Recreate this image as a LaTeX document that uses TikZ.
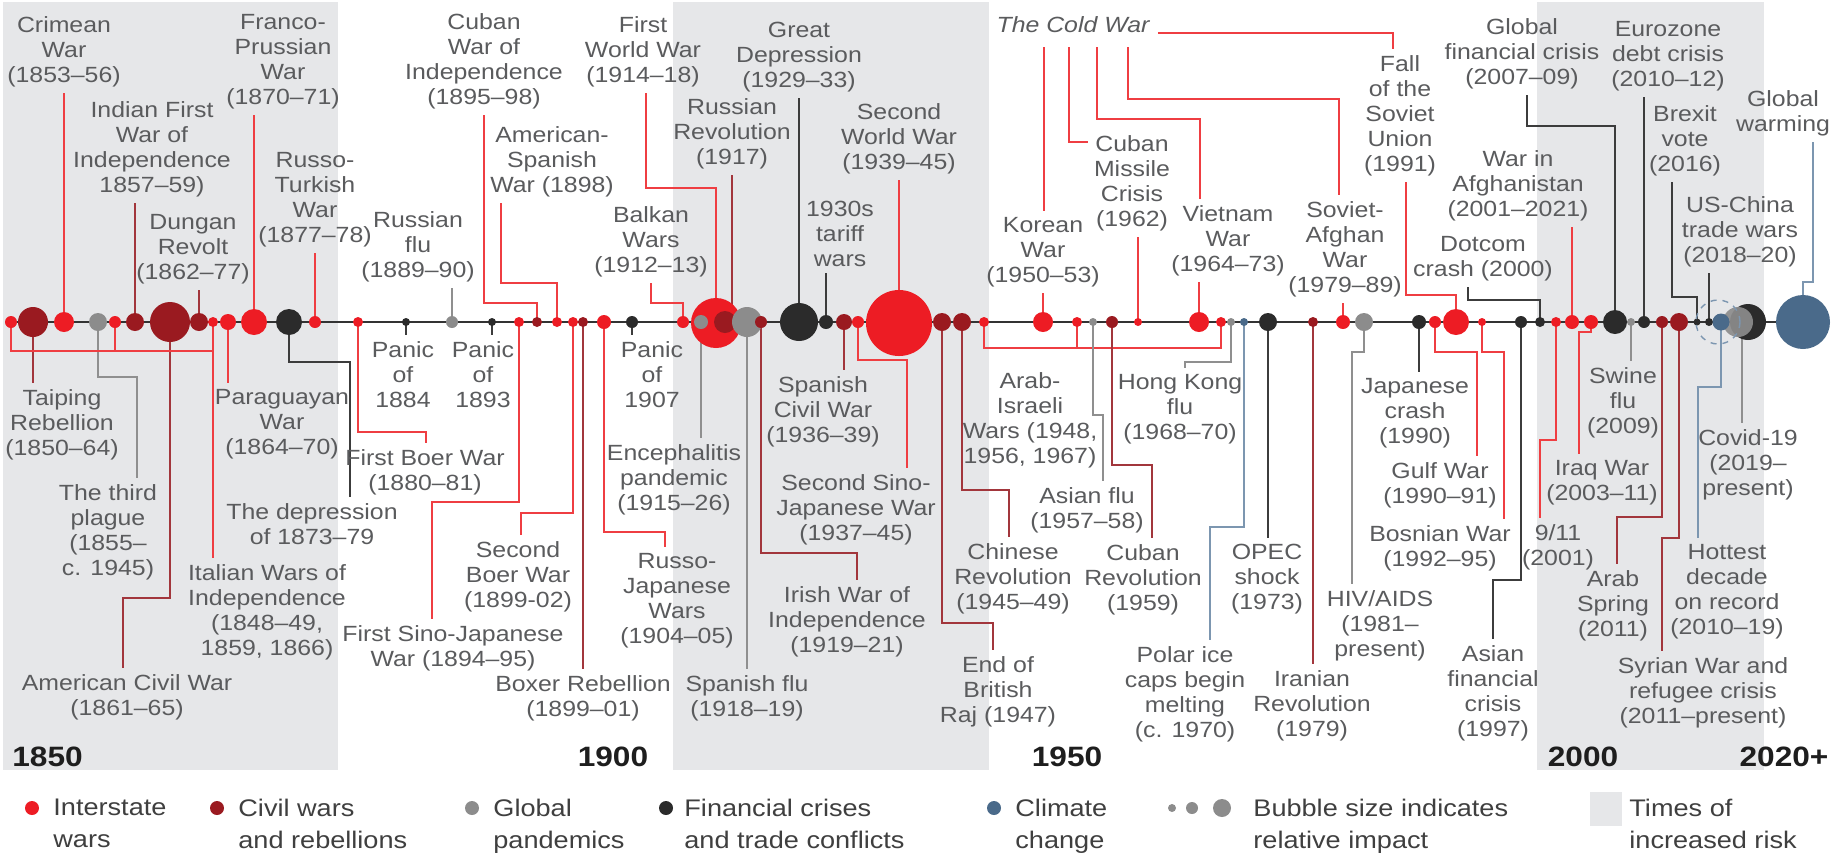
\documentclass[tikz,border=0pt]{standalone}
\usepackage{fontspec}
\setmainfont{Liberation Sans}[FakeStretch=1.13]
\usetikzlibrary{calc}
\pgfdeclarelayer{back}
\pgfdeclarelayer{mid}
\pgfsetlayers{back,mid,main}
\definecolor{cI}{HTML}{ED1C24}
\definecolor{cC}{HTML}{9A1A20}
\definecolor{cP}{HTML}{8C8C8C}
\definecolor{cF}{HTML}{2B2B2B}
\definecolor{cK}{HTML}{4A6A8A}
\definecolor{lI}{HTML}{EF3E42}
\definecolor{lC}{HTML}{A2363C}
\definecolor{lP}{HTML}{8F8F8F}
\definecolor{lF}{HTML}{3C3C3C}
\definecolor{lK}{HTML}{7C96B0}
\definecolor{bgc}{HTML}{E6E7E9}
\definecolor{txt}{HTML}{5A5B5D}
\definecolor{yrc}{HTML}{1E1E1E}
\definecolor{legc}{HTML}{3F3F3F}
\definecolor{axc}{HTML}{333333}
\begin{document}
\begin{tikzpicture}[x=0.5pt,y=-0.5pt,
  lab/.style={font=\fontsize{11}{12.5}\selectfont, text=txt, align=center, inner sep=3pt},
  yr/.style={font=\fontsize{14}{16}\selectfont\bfseries, text=yrc, inner sep=0pt},
  leg/.style={font=\fontsize{12}{16}\selectfont, text=legc, align=left, inner sep=0pt, anchor=north west},
  bub/.style={circle, inner sep=0pt, draw=none},
  wI/.style={draw=lI, line width=1pt},
  wC/.style={draw=lC, line width=1pt},
  wP/.style={draw=lP, line width=1pt},
  wF/.style={draw=lF, line width=1pt},
  wK/.style={draw=lK, line width=1pt}]
\useasboundingbox (0,0) rectangle (1836,859);
\begin{pgfonlayer}{back}
\fill[bgc] (3,2) rectangle (338,770);
\fill[bgc] (673,2) rectangle (989,770);
\fill[bgc] (1537,2) rectangle (1764,770);
\coordinate (axL) at (5,322);
\coordinate (axR) at (1790,322);
\draw[line width=1.3pt, axc] (axL) -- (axR);
\end{pgfonlayer}

% ---------- dots ----------
\node[bub,fill=cI,minimum size=6pt] (dit1) at (11,322) {};
\node[bub,fill=cC,minimum size=15pt] (dtaiping) at (33,322) {};
\node[bub,fill=cI,minimum size=10pt] (dcrimean) at (64,322) {};
\node[bub,fill=cP,minimum size=9pt] (dplague) at (98,322) {};
\node[bub,fill=cI,minimum size=6pt] (dit2) at (115,322) {};
\node[bub,fill=cC,minimum size=9pt] (dindian) at (135,322) {};
\node[bub,fill=cC,minimum size=20pt] (damcivil) at (170,322) {};
\node[bub,fill=cC,minimum size=9pt] (ddungan) at (199,322) {};
\node[bub,fill=cI,minimum size=5pt] (dit3) at (213,322) {};
\node[bub,fill=cI,minimum size=8pt] (dparaguay) at (228,322) {};
\node[bub,fill=cI,minimum size=13pt] (dfranco) at (254,322) {};
\node[bub,fill=cF,minimum size=13pt] (ddep73) at (289,322) {};
\node[bub,fill=cI,minimum size=6pt] (drusturk) at (315,322) {};
\node[bub,fill=cI,minimum size=5pt] (dboer1) at (358,322) {};
\node[bub,fill=cF,minimum size=4pt] (dpanic84) at (406,322) {};
\node[bub,fill=cP,minimum size=6pt] (drusflu) at (452,322) {};
\node[bub,fill=cF,minimum size=4pt] (dpanic93) at (492,322) {};
\node[bub,fill=cI,minimum size=5pt] (dsino1) at (519,322) {};
\node[bub,fill=cC,minimum size=5pt] (dcuba95) at (537,322) {};
\node[bub,fill=cI,minimum size=5pt] (damspan) at (557,322) {};
\node[bub,fill=cI,minimum size=5pt] (dboer2) at (573,322) {};
\node[bub,fill=cC,minimum size=5pt] (dboxer) at (583,322) {};
\node[bub,fill=cI,minimum size=7pt] (drusjap) at (604,322) {};
\node[bub,fill=cF,minimum size=6pt] (dpanic07) at (632,322) {};
\node[bub,fill=cI,minimum size=6pt] (dbalkan) at (683,322) {};
\node[bub,fill=cI,minimum size=25pt] (dwwi) at (716,323) {};
\node[bub,fill=cP,minimum size=7pt] (denceph) at (701,322) {};
\node[bub,fill=cC,minimum size=11pt] (drusrev) at (725,322) {};
\node[bub,fill=cP,minimum size=15pt] (dspflu) at (747,322) {};
\node[bub,fill=cC,minimum size=6pt] (dirish) at (761,322) {};
\node[bub,fill=cF,minimum size=19pt] (dgreatdep) at (799,322) {};
\node[bub,fill=cF,minimum size=7pt] (dtariff) at (826,322) {};
\node[bub,fill=cC,minimum size=8pt] (dspcivil) at (844,322) {};
\node[bub,fill=cI,minimum size=6pt] (dsino2) at (858,322) {};
\node[bub,fill=cI,minimum size=33pt] (dww2) at (899,323) {};
\node[bub,fill=cC,minimum size=9pt] (dendraj) at (942,322) {};
\node[bub,fill=cC,minimum size=9pt] (dchinrev) at (962,322) {};
\node[bub,fill=cI,minimum size=5pt] (dai1) at (984,322) {};
\node[bub,fill=cI,minimum size=10pt] (dkorea) at (1043,322) {};
\node[bub,fill=cI,minimum size=5pt] (dai2) at (1077,322) {};
\node[bub,fill=cP,minimum size=4pt] (dasianflu) at (1093,322) {};
\node[bub,fill=cC,minimum size=6pt] (dcubarev) at (1112,322) {};
\node[bub,fill=cI,minimum size=4pt] (dmissile) at (1138,322) {};
\node[bub,fill=cI,minimum size=10pt] (dvietnam) at (1199,322) {};
\node[bub,fill=cI,minimum size=5pt] (dai3) at (1221,322) {};
\node[bub,fill=cP,minimum size=4pt] (dhkflu) at (1231,322) {};
\node[bub,fill=cK,minimum size=4pt] (dpolar) at (1244,322) {};
\node[bub,fill=cF,minimum size=9pt] (dopec) at (1268,322) {};
\node[bub,fill=cC,minimum size=5pt] (diran) at (1313,322) {};
\node[bub,fill=cI,minimum size=7pt] (dsovafg) at (1343,322) {};
\node[bub,fill=cP,minimum size=9pt] (dhiv) at (1364,322) {};
\node[bub,fill=cF,minimum size=7pt] (djapan) at (1419,322) {};
\node[bub,fill=cI,minimum size=6pt] (dgulf) at (1435,322) {};
\node[bub,fill=cI,minimum size=13pt] (dfallsu) at (1456,322) {};
\node[bub,fill=cI,minimum size=4pt] (dbosnia) at (1482,322) {};
\node[bub,fill=cF,minimum size=6pt] (dasianfin) at (1521,322) {};
\node[bub,fill=cF,minimum size=5pt] (ddotcom) at (1540,322) {};
\node[bub,fill=cI,minimum size=5pt] (d911) at (1556,322) {};
\node[bub,fill=cI,minimum size=7pt] (dafghan) at (1572,322) {};
\node[bub,fill=cI,minimum size=7pt] (diraq) at (1591,322) {};
\node[bub,fill=cF,minimum size=12pt] (dgfc) at (1615,322) {};
\node[bub,fill=cP,minimum size=4pt] (dswine) at (1631,322) {};
\node[bub,fill=cF,minimum size=6pt] (deuro) at (1644,322) {};
\node[bub,fill=cC,minimum size=6pt] (darabspr) at (1662,322) {};
\node[bub,fill=cC,minimum size=9pt] (dsyria) at (1679,322) {};
\node[bub,fill=cF,minimum size=3.5pt] (dbrexit) at (1697,322) {};
\node[bub,fill=cF,minimum size=4pt] (duschina) at (1709,322) {};
\node[bub,fill=cF,minimum size=18pt] (dcovidecon) at (1748,322) {};
\node[bub,fill=cP,minimum size=15pt,opacity=0.92] (dcovid) at (1738,322) {};
\node[bub,fill=cK,minimum size=8.5pt] (dhottest) at (1721,322) {};
\node[circle,draw=lK,dashed,line width=0.7pt,inner sep=0pt,minimum size=22pt] (dring) at (1718,322) {};
\node[bub,fill=cK,minimum size=27pt] (dwarming) at (1803,322) {};

% ---------- labels above ----------
\node[lab,anchor=south] (lcrimean) at (64,93) {Crimean\\War\\(1853–56)};
\node[lab,anchor=south] (lindian) at (152,203) {Indian First\\War of\\Independence\\1857–59)};
\node[lab,anchor=south] (ldungan) at (193,290) {Dungan\\Revolt\\(1862–77)};
\node[lab,anchor=south] (lfranco) at (283,115) {Franco-\\Prussian\\War\\(1870–71)};
\node[lab,anchor=south] (lrusturk) at (315,253) {Russo-\\Turkish\\War\\(1877–78)};
\node[lab,anchor=south] (lrusflu) at (418,288) {Russian\\flu\\(1889–90)};
\node[lab,anchor=south] (lcuba95) at (484,115) {Cuban\\War of\\Independence\\(1895–98)};
\node[lab,anchor=south] (lamspan) at (552,203) {American-\\Spanish\\War (1898)};
\node[lab,anchor=south] (lbalkan) at (651,283) {Balkan\\Wars\\(1912–13)};
\node[lab,anchor=south] (lwwi) at (643,93) {First\\World War\\(1914–18)};
\node[lab,anchor=south] (lrusrev) at (732,175) {Russian\\Revolution\\(1917)};
\node[lab,anchor=south] (lgreatdep) at (799,98) {Great\\Depression\\(1929–33)};
\node[lab,anchor=south] (ltariff) at (840,273) {1930s\\tariff\\wars};
\node[lab,anchor=south] (lww2) at (899,180) {Second\\World War\\(1939–45)};
\node[lab,font=\fontsize{11}{12.5}\selectfont\itshape] (lcold) at (1073,25) {The Cold War};
\node[lab,anchor=south] (lkorea) at (1043,293) {Korean\\War\\(1950–53)};
\node[lab,anchor=south] (lmissile) at (1132,237) {Cuban\\Missile\\Crisis\\(1962)};
\node[lab,anchor=south] (lvietnam) at (1228,282) {Vietnam\\War\\(1964–73)};
\node[lab,anchor=south] (lsovafg) at (1345,303) {Soviet-\\Afghan\\War\\(1979–89)};
\node[lab,anchor=south] (lfallsu) at (1400,182) {Fall\\of the\\Soviet\\Union\\(1991)};
\node[lab,anchor=south] (ldotcom) at (1483,287) {Dotcom\\crash (2000)};
\node[lab,anchor=south] (lafghan) at (1518,227) {War in\\Afghanistan\\(2001–2021)};
\node[lab,anchor=south] (lgfc) at (1522,95) {Global\\financial crisis\\(2007–09)};
\node[lab,anchor=south] (leuro) at (1668,97) {Eurozone\\debt crisis\\(2010–12)};
\node[lab,anchor=south] (lbrexit) at (1685,182) {Brexit\\vote\\(2016)};
\node[lab,anchor=south] (luschina) at (1740,273) {US-China\\trade wars\\(2018–20)};
\node[lab,anchor=south] (lwarming) at (1783,142) {Global\\warming};

% ---------- labels below ----------
\node[lab,anchor=north] (ltaiping) at (62,383) {Taiping\\Rebellion\\(1850–64)};
\node[lab,anchor=north] (lplague) at (108,478) {The third\\plague\\(1855–\\c. 1945)};
\node[lab,anchor=north] (lamcivil) at (127,668) {American Civil War\\(1861–65)};
\node[lab,anchor=north] (litaly) at (267,558) {Italian Wars of\\Independence\\(1848–49,\\1859, 1866)};
\node[lab,anchor=north] (lparaguay) at (282,383) {Paraguayan\\War\\(1864–70)};
\node[lab,anchor=north] (ldep73) at (312,497) {The depression\\of 1873–79};
\node[lab,anchor=north] (lboer1) at (425,443) {First Boer War\\(1880–81)};
\node[lab,anchor=north] (lpanic84) at (403,335) {Panic\\of\\1884};
\node[lab,anchor=north] (lsino1) at (453,619) {First Sino-Japanese\\War (1894–95)};
\node[lab,anchor=north] (lpanic93) at (483,335) {Panic\\of\\1893};
\node[lab,anchor=north] (lboer2) at (518,535) {Second\\Boer War\\(1899-02)};
\node[lab,anchor=north] (lboxer) at (583,669) {Boxer Rebellion\\(1899–01)};
\node[lab,anchor=north] (lrusjap) at (677,547) {Russo-\\Japanese\\Wars\\(1904–05)};
\node[lab,anchor=north] (lpanic07) at (652,335) {Panic\\of\\1907};
\node[lab,anchor=north] (lenceph) at (674,438) {Encephalitis\\pandemic\\(1915–26)};
\node[lab,anchor=north] (lspflu) at (747,669) {Spanish flu\\(1918–19)};
\node[lab,anchor=north] (lirish) at (847,580) {Irish War of\\Independence\\(1919–21)};
\node[lab,anchor=north] (lspcivil) at (823,370) {Spanish\\Civil War\\(1936–39)};
\node[lab,anchor=north] (lsino2) at (856,468) {Second Sino-\\Japanese War\\(1937–45)};
\node[lab,anchor=north] (lendraj) at (998,650) {End of\\British\\Raj (1947)};
\node[lab,anchor=north] (lchinrev) at (1013,537) {Chinese\\Revolution\\(1945–49)};
\node[lab,anchor=north] (larabisr) at (1030,366) {Arab-\\Israeli\\Wars (1948,\\1956, 1967)};
\node[lab,anchor=north] (lasianflu) at (1087,481) {Asian flu\\(1957–58)};
\node[lab,anchor=north] (lcubarev) at (1143,538) {Cuban\\Revolution\\(1959)};
\node[lab,anchor=north] (lhkflu) at (1180,368) {Hong Kong\\flu\\(1968–70)};
\node[lab,anchor=north] (lpolar) at (1185,640) {Polar ice\\caps begin\\melting\\(c. 1970)};
\node[lab,anchor=north] (lopec) at (1267,538) {OPEC\\shock\\(1973)};
\node[lab,anchor=north] (liran) at (1312,664) {Iranian\\Revolution\\(1979)};
\node[lab,anchor=north] (lhiv) at (1380,584) {HIV/AIDS\\(1981–\\present)};
\node[lab,anchor=north] (ljapan) at (1415,372) {Japanese\\crash\\(1990)};
\node[lab,anchor=north] (lgulf) at (1440,456) {Gulf War\\(1990–91)};
\node[lab,anchor=north] (lbosnia) at (1440,519) {Bosnian War\\(1992–95)};
\node[lab,anchor=north] (lasianfin) at (1493,639) {Asian\\financial\\crisis\\(1997)};
\node[lab,anchor=north] (l911) at (1558,518) {9/11\\(2001)};
\node[lab,anchor=north] (liraq) at (1602,454) {Iraq War\\(2003–11)};
\node[lab,anchor=north] (lswine) at (1623,361) {Swine\\flu\\(2009)};
\node[lab,anchor=north] (larabspr) at (1613,564) {Arab\\Spring\\(2011)};
\node[lab,anchor=north] (lsyria) at (1703,651) {Syrian War and\\refugee crisis\\(2011–present)};
\node[lab,anchor=north] (lhottest) at (1727,538) {Hottest\\decade\\on record\\(2010–19)};
\node[lab,anchor=north] (lcovid) at (1748,423) {Covid-19\\(2019–\\present)};

% ---------- year marks ----------
\node[yr,anchor=west] (y1850) at (12,757) {1850};
\node[yr] (y1900) at (613,757) {1900};
\node[yr] (y1950) at (1067,757) {1950};
\node[yr] (y2000) at (1583,757) {2000};
\node[yr] (y2020) at (1784,757) {2020+};

% ---------- legend ----------
\node[bub,fill=cI,minimum size=7pt] (kI) at (32,808) {};
\node[leg] (tI) at (53,799) {Interstate\\wars};
\node[bub,fill=cC,minimum size=7pt] (kC) at (217,808) {};
\node[leg] (tC) at (238,799) {Civil wars\\and rebellions};
\node[bub,fill=cP,minimum size=7pt] (kP) at (472,808) {};
\node[leg] (tP) at (493,799) {Global\\pandemics};
\node[bub,fill=cF,minimum size=7pt] (kF) at (666,808) {};
\node[leg] (tF) at (684,799) {Financial crises\\and trade conflicts};
\node[bub,fill=cK,minimum size=7pt] (kK) at (994,808) {};
\node[leg] (tK) at (1015,799) {Climate\\change};
\node[bub,fill=cP,minimum size=4pt] (kb1) at (1172,808) {};
\node[bub,fill=cP,minimum size=6pt] (kb2) at (1192,808) {};
\node[bub,fill=cP,minimum size=9pt] (kb3) at (1222,808) {};
\node[leg] (tB) at (1253,799) {Bubble size indicates\\relative impact};
\node[fill=bgc,inner sep=0pt,minimum width=16pt,minimum height=17pt] (kR) at (1606,809) {};
\node[leg] (tR) at (1629,799) {Times of\\increased risk};

% ---------- connectors ----------
\begin{pgfonlayer}{mid}
% above
\draw[wI] (dcrimean.center) -- (dcrimean |- lcrimean.south);
\draw[wC] (dindian.center) -- (dindian |- lindian.south);
\draw[wC] (ddungan.center) -- (ddungan |- ldungan.south);
\draw[wI] (dfranco.center) -- (dfranco |- lfranco.south);
\draw[wI] (drusturk.center) -- (drusturk |- lrusturk.south);
\draw[wP] (drusflu.center) -- (drusflu |- lrusflu.south);
\draw[wI] (dcuba95.center) -- ++(0,-19) -| (lcuba95.south);
\draw[wI] (damspan.center) -- ++(0,-39) -| ($(lamspan.south)+(-51,0)$);
\draw[wI] (dbalkan.center) -- ++(0,-19) -| (lbalkan.south);
\draw[wI] (dwwi.center) -- ++(0,-135) -| ($(lwwi.south)+(3,0)$);
\draw[wC] (drusrev.center -| lrusrev.south) -- (lrusrev.south);
\draw[wF] (dgreatdep.center) -- (dgreatdep |- lgreatdep.south);
\draw[wF] (dtariff.center) -- (dtariff |- ltariff.south);
\draw[wI] (dww2.center) -- (dww2 |- lww2.south);
\draw[wI] (dkorea.center) -- (dkorea |- lkorea.south);
\draw[wI] (dmissile.center) -- (dmissile |- lmissile.south);
\draw[wI] (dvietnam.center) -- (dvietnam |- lvietnam.south);
\draw[wI] (dsovafg.center) -- (dsovafg |- lsovafg.south);
\draw[wI] (dfallsu.center) -- ++(0,-27) -| ($(lfallsu.south)+(6,0)$);
\draw[wF] (ddotcom.center) -- ++(0,-22) -| ($(ldotcom.south)+(-15,0)$);
\draw[wI] (dafghan.center) -- (dafghan |- lafghan.south);
\draw[wF] (dgfc.center) -- ++(0,-196) -| ($(lgfc.south)+(5,0)$);
\draw[wF] (deuro.center) -- (deuro |- leuro.south);
\draw[wF] (dbrexit.center) -- ++(0,-25) -| ($(lbrexit.south)+(-13,0)$);
\draw[wF] (duschina.center) -- (duschina |- luschina.south);
\draw[wK] (dwarming.center) -- ++(0,-40) -| ($(lwarming.south)+(30,0)$);
% cold war
\coordinate (cw1) at (1044,47);
\coordinate (cw2) at (1069,47);
\coordinate (cw3) at (1097,47);
\coordinate (cw4) at (1128,47);
\coordinate (cmis) at (1088,142);
\draw[wI] ($(lcold.east)+(2,8)$) -| ($(lfallsu.north)+(-7,0)$);
\draw[wI] (cw1) -- (cw1 |- lkorea.north);
\draw[wI] (cw2) |- (cmis);
\draw[wI] (cw3) -- ++(0,72) -| ($(lvietnam.north)+(-28,0)$);
\draw[wI] (cw4) -- ++(0,52) -| ($(lsovafg.north)+(-6,0)$);
% below
\draw[wC] (dtaiping.center) -- (dtaiping |- ltaiping.north);
\draw[wP] (dplague.center) -- ++(0,55) -| ($(lplague.north)+(29,0)$);
\draw[wC] (damcivil.center) -- ++(0,276) -| ($(lamcivil.north)+(-4,0)$);
\coordinate (itbar) at (213,351);
\draw[wI] (dit1.center) |- (itbar);
\draw[wI] (dit2.center) -- (dit2 |- itbar);
\draw[wI] (dit3.center) -- ($(litaly.north)+(-54,0)$);
\draw[wI] (dparaguay.center) -- (dparaguay |- lparaguay.north);
\draw[wF] (ddep73.center) -- ++(0,40) -| ($(ldep73.north)+(38,0)$);
\draw[wI] (dboer1.center) -- ++(0,110) -| ($(lboer1.north)+(1,0)$);
\draw[wF] (dpanic84.center) -- (dpanic84 |- lpanic84.north);
\draw[wI] (dsino1.center) -- ++(0,180) -| ($(lsino1.north)+(-21,0)$);
\draw[wF] (dpanic93.center) -- (dpanic93 |- lpanic93.north);
\draw[wI] (dboer2.center) -- ++(0,191) -| ($(lboer2.north)+(3,0)$);
\draw[wC] (dboxer.center) -- (dboxer |- lboxer.north);
\draw[wI] (drusjap.center) -- ++(0,210) -| ($(lrusjap.north)+(-12,0)$);
\draw[wF] (dpanic07.center) -- (dpanic07 |- lpanic07.north);
\draw[wP] (denceph.center) -- (denceph |- lenceph.north);
\draw[wP] (dspflu.center) -- (dspflu |- lspflu.north);
\draw[wC] (dirish.center) -- ++(0,231) -| ($(lirish.north)+(10,0)$);
\draw[wC] (dspcivil.center) -- (dspcivil |- lspcivil.north);
\draw[wI] (dsino2.center) -- ++(0,38) -| ($(lsino2.north)+(51,0)$);
\draw[wC] (dendraj.center) -- ++(0,301) -| ($(lendraj.north)+(-5,0)$);
\draw[wC] (dchinrev.center) -- ++(0,168) -| ($(lchinrev.north)+(-4,0)$);
\coordinate (aibarL) at (984,348);
\coordinate (aibarR) at (1221,348);
\draw[wI] (dai1.center) -- (aibarL) -- (aibarR) -- (dai3.center);
\draw[wI] (dai2.center) -- (dai2 |- aibarL);
\draw[wI] ($(larabisr.north)+(3,0)$ |- aibarL) -- ($(larabisr.north)+(3,0)$);
\draw[wP] (dasianflu.center) -- ++(0,93) -| ($(lasianflu.north)+(16,0)$);
\draw[wC] (dcubarev.center) -- ++(0,143) -| ($(lcubarev.north)+(9,0)$);
\draw[wP] (dhkflu.center) -- ++(0,40) -| ($(lhkflu.north)+(5,0)$);
\draw[wK] (dpolar.center) -- ++(0,205) -| ($(lpolar.north)+(25,0)$);
\draw[wF] (dopec.center) -- (dopec |- lopec.north);
\draw[wC] (diran.center) -- (diran |- liran.north);
\draw[wP] (dhiv.center) -- ++(0,30) -| ($(lhiv.north)+(-28,0)$);
\draw[wF] (djapan.center) -- (djapan |- ljapan.north);
\draw[wI] (dgulf.center) -- ++(0,30) -| ($(lgulf.north)+(37,0)$);
\draw[wI] (dbosnia.center) -- ++(0,30) -| ($(lbosnia.north)+(64,0)$);
\draw[wF] (dasianfin.center) -- ++(0,258) -| (lasianfin.north);
\draw[wI] (d911.center) -- ++(0,118) -| ($(l911.north)+(-18,0)$);
\draw[wI] (diraq.center) -- ++(0,10) -| ($(liraq.north)+(-23,0)$);
\draw[wP] (dswine.center) -- (dswine |- lswine.north);
\draw[wC] (darabspr.center) -- ++(0,195) -| ($(larabspr.north)+(4,0)$);
\draw[wC] (dsyria.center) -- ++(0,216) -| ($(lsyria.north)+(-41,0)$);
\draw[wK] (dhottest.center) -- ++(0,65) -| ($(lhottest.north)+(-29,0)$);
\draw[wP] ($(dcovid.center)+(4,0)$) -- ($(lcovid.north)+(-6,0)$);
\end{pgfonlayer}
\end{tikzpicture}
\end{document}
